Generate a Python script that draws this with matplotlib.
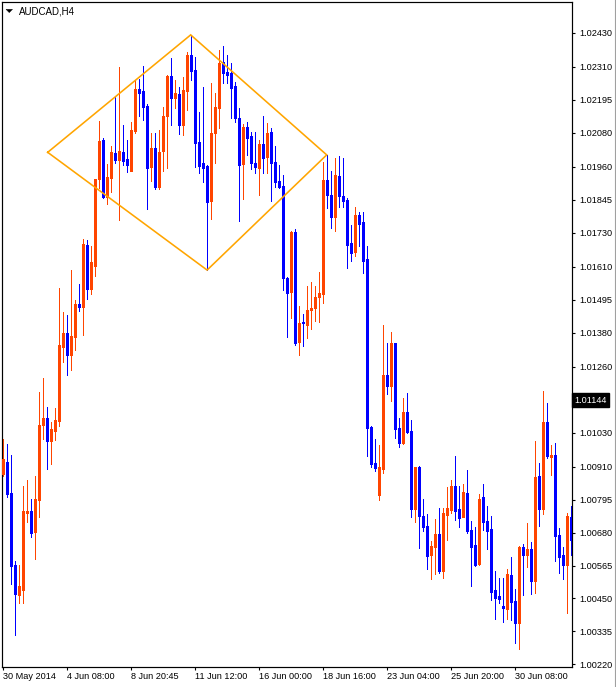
import matplotlib
matplotlib.use("Agg")
import matplotlib.pyplot as plt
from matplotlib.patches import Polygon
from matplotlib.lines import Line2D

# ---------------- data (AUDCAD H4) ----------------
opens = [
    1.00885, 1.00927, 1.00818, 1.00566, 1.00462, 1.00479, 1.00748, 1.00756, 1.00682, 1.00794,
    1.01056, 1.01081, 1.01000, 1.01036, 1.01070, 1.01330, 1.01378, 1.01302, 1.01364, 1.01480,
    1.01470, 1.01686, 1.01532, 1.01613, 1.01918, 1.02054, 1.01854, 1.01921, 1.02008, 1.01984,
    1.02012, 1.01988, 1.01946, 1.02086, 1.02232, 1.02226, 1.02173, 1.01960, 1.02026, 1.01890,
    1.02016, 1.02138, 1.02278, 1.02201, 1.02215, 1.02106, 1.02226, 1.02352, 1.02299, 1.02047,
    1.01974, 1.01963, 1.01840, 1.02078, 1.02166, 1.02327, 1.02292, 1.02288, 1.02243, 1.02131,
    1.01970, 1.02100, 1.02068, 1.01974, 1.01956, 1.02040, 1.01994, 1.02082, 1.01977, 1.01910,
    1.01893, 1.01571, 1.01522, 1.01732, 1.01347, 1.01417, 1.01406, 1.01459, 1.01466, 1.01504,
    1.01515, 1.01914, 1.01862, 1.01784, 1.01928, 1.01858, 1.01844, 1.01694, 1.01662, 1.01792,
    1.01767, 1.01638, 1.01050, 1.00924, 1.00812, 1.00902, 1.01232, 1.01193, 1.01344, 1.01046,
    1.00994, 1.01102, 1.01036, 1.00762, 1.00910, 1.00738, 1.00703, 1.00602, 1.00630, 1.00675,
    1.00546, 1.00742, 1.00759, 1.00843, 1.00762, 1.00734, 1.00818, 1.00689, 1.00636, 1.00570,
    1.00804, 1.00720, 1.00692, 1.00479, 1.00458, 1.00423, 1.00412, 1.00532, 1.00440, 1.00364,
    1.00630, 1.00602, 1.00622, 1.00510, 1.00878, 1.00762, 1.01067, 1.00944, 1.00952, 1.00672,
    1.00602, 1.00566, 1.00734,
]
highs = [
    1.01008, 1.00990, 1.00952, 1.00580, 1.00566, 1.00843, 1.00864, 1.00798, 1.00878, 1.01172,
    1.01221, 1.01120, 1.01067, 1.01116, 1.01536, 1.01452, 1.01442, 1.01599, 1.01494, 1.01550,
    1.01708, 1.01704, 1.01683, 1.01918, 1.02120, 1.02061, 1.01970, 1.02033, 1.02204, 1.02310,
    1.02106, 1.02054, 1.02117, 1.02264, 1.02268, 1.02313, 1.02180, 1.02078, 1.02078, 1.02089,
    1.02170, 1.02282, 1.02341, 1.02264, 1.02240, 1.02274, 1.02362, 1.02422, 1.02344, 1.02152,
    1.02240, 1.01966, 1.02254, 1.02218, 1.02369, 1.02383, 1.02352, 1.02324, 1.02257, 1.02166,
    1.02110, 1.02117, 1.02082, 1.02082, 1.02054, 1.02138, 1.02114, 1.02096, 1.02033, 1.01966,
    1.01932, 1.01574, 1.01736, 1.01742, 1.01473, 1.01445, 1.01543, 1.01557, 1.01543, 1.01592,
    1.01977, 1.02002, 1.01946, 1.01991, 1.01998, 1.01991, 1.01851, 1.01756, 1.01820, 1.01802,
    1.01802, 1.01683, 1.01053, 1.01008, 1.00986, 1.01406, 1.01344, 1.01382, 1.01344, 1.01081,
    1.01151, 1.01168, 1.01074, 1.00910, 1.00913, 1.00798, 1.00745, 1.00650, 1.00728, 1.00766,
    1.00766, 1.00840, 1.00864, 1.00948, 1.00843, 1.00850, 1.00899, 1.00720, 1.00700, 1.00815,
    1.00850, 1.00773, 1.00738, 1.00546, 1.00521, 1.00521, 1.00552, 1.00594, 1.00482, 1.00633,
    1.00640, 1.00714, 1.00647, 1.01000, 1.00924, 1.01176, 1.01134, 1.00986, 1.00994, 1.00696,
    1.00630, 1.00748, 1.00773,
]
lows = [
    1.00878, 1.00804, 1.00500, 1.00322, 1.00434, 1.00434, 1.00717, 1.00664, 1.00588, 1.00734,
    1.01008, 1.00902, 1.00920, 1.01004, 1.01053, 1.01277, 1.01232, 1.01249, 1.01319, 1.01456,
    1.01372, 1.01498, 1.01515, 1.01578, 1.01886, 1.01851, 1.01830, 1.01872, 1.01974, 1.01774,
    1.01966, 1.01942, 1.01946, 1.02078, 1.02138, 1.02124, 1.01812, 1.01910, 1.01882, 1.01882,
    1.01946, 1.01956, 1.02106, 1.02166, 1.02075, 1.02072, 1.02159, 1.02264, 1.01960, 1.01938,
    1.01907, 1.01599, 1.01778, 1.01974, 1.02096, 1.02254, 1.02254, 1.02131, 1.02117, 1.01770,
    1.01848, 1.02002, 1.01952, 1.01938, 1.01862, 1.01938, 1.01938, 1.01840, 1.01890, 1.01886,
    1.01529, 1.01364, 1.01431, 1.01336, 1.01302, 1.01333, 1.01361, 1.01392, 1.01420, 1.01417,
    1.01484, 1.01816, 1.01746, 1.01736, 1.01820, 1.01820, 1.01606, 1.01630, 1.01648, 1.01683,
    1.01588, 1.00948, 1.00910, 1.00896, 1.00794, 1.00888, 1.01165, 1.01140, 1.01011, 1.00980,
    1.00990, 1.01028, 1.00734, 1.00717, 1.00626, 1.00686, 1.00552, 1.00518, 1.00535, 1.00538,
    1.00521, 1.00654, 1.00748, 1.00724, 1.00700, 1.00734, 1.00678, 1.00493, 1.00563, 1.00566,
    1.00689, 1.00622, 1.00444, 1.00378, 1.00434, 1.00367, 1.00378, 1.00374, 1.00294, 1.00272,
    1.00462, 1.00560, 1.00465, 1.00468, 1.00703, 1.00745, 1.00941, 1.00882, 1.00580, 1.00538,
    1.00518, 1.00398, 1.00602,
]
closes = [
    1.00938, 1.00815, 1.00563, 1.00465, 1.00493, 1.00756, 1.00756, 1.00678, 1.00798, 1.01056,
    1.01081, 1.01000, 1.01042, 1.01074, 1.01336, 1.01378, 1.01302, 1.01368, 1.01480, 1.01470,
    1.01690, 1.01532, 1.01627, 1.01918, 1.02050, 1.01854, 1.01924, 1.02012, 1.01984, 1.02016,
    1.01980, 1.01966, 1.02089, 1.02232, 1.02218, 1.02170, 1.01956, 1.02026, 1.01890, 1.02012,
    1.02138, 1.02278, 1.02201, 1.02218, 1.02106, 1.02229, 1.02352, 1.02296, 1.02044, 1.01963,
    1.01956, 1.01837, 1.02078, 1.02170, 1.02324, 1.02288, 1.02282, 1.02236, 1.02131, 1.01966,
    1.02100, 1.02061, 1.01974, 1.01960, 1.02040, 1.01991, 1.02078, 1.01974, 1.01907, 1.01890,
    1.01571, 1.01518, 1.01732, 1.01344, 1.01414, 1.01414, 1.01459, 1.01466, 1.01504, 1.01518,
    1.01914, 1.01862, 1.01784, 1.01932, 1.01858, 1.01840, 1.01686, 1.01658, 1.01792, 1.01760,
    1.01630, 1.01046, 1.00920, 1.00906, 1.00910, 1.01232, 1.01193, 1.01344, 1.01042, 1.00994,
    1.01102, 1.01032, 1.00762, 1.00910, 1.00738, 1.00700, 1.00598, 1.00633, 1.00675, 1.00546,
    1.00748, 1.00766, 1.00843, 1.00756, 1.00731, 1.00822, 1.00686, 1.00630, 1.00566, 1.00798,
    1.00717, 1.00686, 1.00472, 1.00451, 1.00448, 1.00416, 1.00535, 1.00437, 1.00364, 1.00630,
    1.00602, 1.00622, 1.00510, 1.00874, 1.00762, 1.01067, 1.00948, 1.00952, 1.00668, 1.00594,
    1.00566, 1.00738, 1.00654,
]

date_labels = ["30 May 2014", "4 Jun 08:00", "8 Jun 20:45", "11 Jun 12:00", "16 Jun 00:00",
               "18 Jun 16:00", "23 Jun 04:00", "25 Jun 20:00", "30 Jun 08:00"]
date_bars = [0, 16, 32, 48, 64, 80, 96, 112, 128]

price_ticks = [1.02430, 1.02310, 1.02195, 1.02080, 1.01960, 1.01845, 1.01730, 1.01610,
               1.01495, 1.01380, 1.01260, 1.01030, 1.00910, 1.00795, 1.00680, 1.00565,
               1.00450, 1.00335, 1.00220]
last_price = 1.01144
title = "AUDCAD,H4"

# diamond pattern vertices (bar index, price)
diamond_x = [11.25, 47.0, 81.0, 51.1, 11.25]
diamond_y = [1.02011, 1.02422, 1.02002, 1.01599, 1.02011]

BULL = "#FF4500"
BEAR = "#0000FF"
DIAMOND = "#FFA500"

# ---------------- figure ----------------
W, H = 616, 687
DPI = 100
PX = 72.0 / DPI  # one pixel in points
fig = plt.figure(figsize=(W / DPI, H / DPI), dpi=DPI)
fig.patch.set_facecolor("white")
L, R, T, B = 2.3, 572.3, 2.3, 666.7
ax = fig.add_axes([L / W, 1 - B / H, (R - L) / W, (B - T) / H])
ax.set_facecolor("white")

n = len(opens)
xs = list(range(n))
colors = [BULL if c >= o else BEAR for o, c in zip(opens, closes)]

# wicks (1 px)
ax.vlines(xs, lows, highs, colors=colors, linewidth=1.0 * PX, antialiased=False, zorder=2)
# bodies (3 px wide)
body_lo = [min(o, c) for o, c in zip(opens, closes)]
body_hi = [max(max(o, c), min(o, c) + 0.00004) for o, c in zip(opens, closes)]
ax.vlines(xs, body_lo, body_hi, colors=colors, linewidth=3.0 * PX, antialiased=False,
          capstyle="butt", zorder=3)

ax.plot(diamond_x, diamond_y, color=DIAMOND, linewidth=1.6 * PX, zorder=4,
        solid_joinstyle="miter")

ax.set_xlim(-0.1, 142.4)
ax.set_ylim(1.00211, 1.02536)

for s in ax.spines.values():
    s.set_color("black")
    s.set_linewidth(1.2 * PX)

# right price axis
ax.yaxis.tick_right()
ax.set_yticks(price_ticks)
ax.set_yticklabels([f"{p:.5f}" for p in price_ticks])
ax.tick_params(axis="y", direction="out", length=2.5, width=0.8, pad=2.5,
               labelsize=6.6, colors="black")

# bottom time axis
ax.set_xticks(date_bars)
ax.set_xticklabels(date_labels, ha="left")
ax.tick_params(axis="x", direction="out", length=2.5, width=0.8, pad=1.5,
               labelsize=6.6, colors="black")
for lab in ax.get_xticklabels() + ax.get_yticklabels():
    lab.set_fontfamily(["Liberation Sans", "DejaVu Sans"])

# current price label
ax.text(1.0035, last_price, f"{last_price:.5f}", transform=ax.get_yaxis_transform(),
        ha="left", va="center", color="white", fontsize=6.6,
        family=["Liberation Sans", "DejaVu Sans"],
        bbox=dict(boxstyle="square,pad=0.28", fc="black", ec="black"), zorder=10,
        clip_on=False)

# title with small triangle
fig.text(19 / W, 1 - 11 / H, title, ha="left", va="center", fontsize=7,
         family=["Liberation Sans", "DejaVu Sans"], color="black")
tri = Polygon([[6 / W, 1 - 9.3 / H], [12.5 / W, 1 - 9.3 / H], [9.25 / W, 1 - 12.6 / H]],
              closed=True, transform=fig.transFigure, fc="black", ec="black", lw=0.3)
fig.add_artist(tri)

# window border on right
fig.add_artist(Line2D([615 / W, 615 / W], [0, 1], transform=fig.transFigure,
                      color="#a0a0a0", linewidth=0.8))

fig.savefig("out.png", dpi=DPI)
